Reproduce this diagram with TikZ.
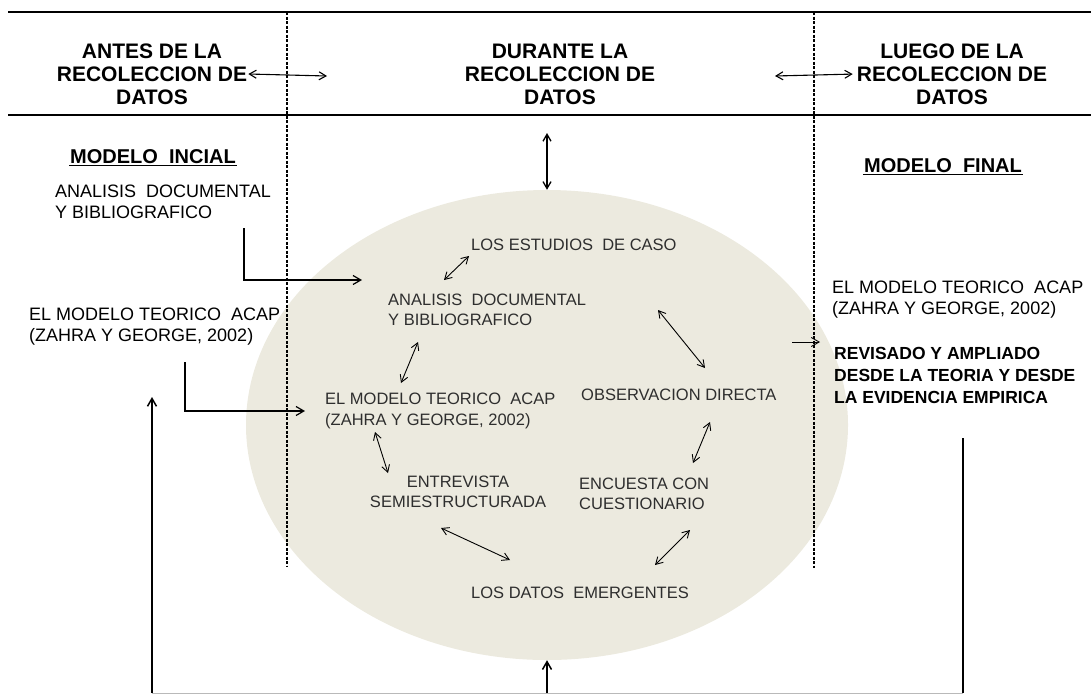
\documentclass[tikz,border=0pt]{standalone}
\usepackage{fontspec}
\setmainfont{Liberation Sans}
\usetikzlibrary{shapes.geometric,arrows.meta}
\definecolor{fondo}{HTML}{ECEADF}
\definecolor{gristxt}{HTML}{2E2E2E}
\tikzset{
  titulo/.style={font=\bfseries\fontsize{21}{23}\selectfont,align=center,inner sep=1pt},
  modelo/.style={font=\bfseries\fontsize{20}{23}\selectfont,inner sep=1pt},
  externo/.style={font=\fontsize{18}{21}\selectfont,align=left,anchor=west,inner sep=1pt},
  interno/.style={font=\fontsize{16.5}{20.5}\selectfont,align=left,text=gristxt,inner sep=1pt},
  flecha/.style={{Straight Barb[angle=60:8pt]}-{Straight Barb[angle=60:8pt]},line width=0.9pt},
  conector/.style={-{Straight Barb[angle=60:9pt]},line width=1.2pt},
  regla/.style={line width=1.6pt},
  divisor/.style={line width=1.1pt,dash pattern=on 3pt off 1.5pt},
}
\begin{document}
\begin{tikzpicture}[x=1pt,y=-1pt]
    \useasboundingbox (0,0) rectangle (1091,694);

    \node[ellipse,fill=fondo,minimum width=602pt,minimum height=470pt,inner sep=0pt] (nube) at (547,425) {};

    \coordinate (r1a) at (8,12);
    \coordinate (r1b) at (1091,12);
    \coordinate (r2a) at (8,115);
    \coordinate (r2b) at (1091,115);
    \coordinate (d1a) at (287,12);
    \coordinate (d1b) at (287,567);
    \coordinate (d2a) at (814,12);
    \coordinate (d2b) at (814,568);

    \draw[regla] (r1a) -- (r1b);
    \draw[regla] (r2a) -- (r2b);
    \draw[divisor] (d1a) -- (d1b);
    \draw[divisor] (d2a) -- (d2b);

    \node[titulo] (hdA) at (152,74) {ANTES DE LA\\RECOLECCION DE\\DATOS};
    \node[titulo] (hdD) at (560,74) {DURANTE LA\\RECOLECCION DE\\DATOS};
    \node[titulo] (hdL) at (952,74) {LUEGO DE LA\\RECOLECCION DE\\DATOS};

    \coordinate (hA) at (327,76);
    \coordinate (hL) at (775,76);
    \coordinate (vD) at (547,133);
    \draw[flecha,line width=1.1pt] (hdA.east) -- (hA);
    \draw[flecha,line width=1.1pt,shorten >=3pt] (hL) -- (hdL.west);
    \draw[flecha,line width=1.3pt] (vD) -- (nube.north);

    \node[modelo] (mIni) at (153,157) {MODELO\ \ INCIAL};
    \node[modelo] (mFin) at (943,166) {MODELO\ \ FINAL};
    \draw[line width=1.3pt] (mIni.south west) -- (mIni.south east);
    \draw[line width=1.3pt] (mFin.south west) -- (mFin.south east);

    \node[externo] (anaIzq) at (54,202) {ANALISIS\ \ DOCUMENTAL\\Y BIBLIOGRAFICO};
    \node[externo] (modIzq) at (28,327) {EL MODELO TEORICO\ \ ACAP\\(ZAHRA Y GEORGE, 2002)};
    \node[externo] (modDer) at (831,300) {EL MODELO TEORICO\ \ ACAP\\(ZAHRA Y GEORGE, 2002)};
    \node[externo,font=\bfseries\fontsize{17.5}{22}\selectfont] (revDer) at (833,375) {REVISADO Y AMPLIADO\\DESDE LA TEORIA Y DESDE\\LA EVIDENCIA EMPIRICA};

    \node[interno,anchor=west] (est) at (470,245) {LOS ESTUDIOS\ \ DE CASO};
    \node[interno,anchor=west] (anaIn) at (387,310) {ANALISIS\ \ DOCUMENTAL\\Y BIBLIOGRAFICO};
    \node[interno,anchor=west] (modIn) at (324,411) {EL MODELO TEORICO\ \ ACAP\\(ZAHRA Y GEORGE, 2002)};
    \node[interno,align=center] (ent) at (458,492) {ENTREVISTA\\SEMIESTRUCTURADA};
    \node[interno,anchor=west] (dat) at (470,593) {LOS DATOS\ \ EMERGENTES};
    \node[interno,anchor=west] (enc) at (578,494) {ENCUESTA CON\\CUESTIONARIO};
    \node[interno,anchor=west] (obs) at (580,395) {OBSERVACION DIRECTA};

    \coordinate (f1i) at (444,280);
    \coordinate (f1f) at (469,256);
    \coordinate (f2i) at (418,342);
    \coordinate (f2f) at (401,383);
    \coordinate (f3i) at (375,432);
    \coordinate (f3f) at (388,473);
    \coordinate (f4i) at (441,528);
    \coordinate (f4f) at (510,560);
    \coordinate (f5i) at (655,565);
    \coordinate (f5f) at (690,530);
    \coordinate (f6i) at (693,463);
    \coordinate (f6f) at (710,422);
    \coordinate (f7i) at (658,310);
    \coordinate (f7f) at (705,368);
    \draw[flecha] (f1i) -- (f1f);
    \draw[flecha] (f2i) -- (f2f);
    \draw[flecha] (f3i) -- (f3f);
    \draw[flecha] (f4i) -- (f4f);
    \draw[flecha] (f5i) -- (f5f);
    \draw[flecha] (f6i) -- (f6f);
    \draw[flecha] (f7i) -- (f7f);

    \coordinate (c1) at (244,228);
    \coordinate (c1f) at (362,280);
    \coordinate (c2) at (185,362);
    \coordinate (c3) at (792,342);
    \coordinate (c3f) at (820,342);
    \draw[conector] (c1) |- (c1f);
    \draw[conector,shorten >=19pt] (c2) |- (modIn.west);
    \draw[conector,line width=0.9pt] (c3) -- (c3f);

    \coordinate (bIzq) at (152,693);
    \coordinate (bCen) at (547,693);
    \coordinate (bDer) at (963,693);
    \coordinate (izqF) at (152,397);
    \coordinate (derI) at (963,438);
    \draw[gray!55,line width=1pt] (bIzq) -- (bDer);
    \draw[conector,line width=1.5pt] (bIzq) -- (izqF);
    \draw[conector,line width=1.5pt] (bCen) -- (nube.south);
    \draw[line width=1.5pt] (derI) -- (bDer);
\end{tikzpicture}
\end{document}
